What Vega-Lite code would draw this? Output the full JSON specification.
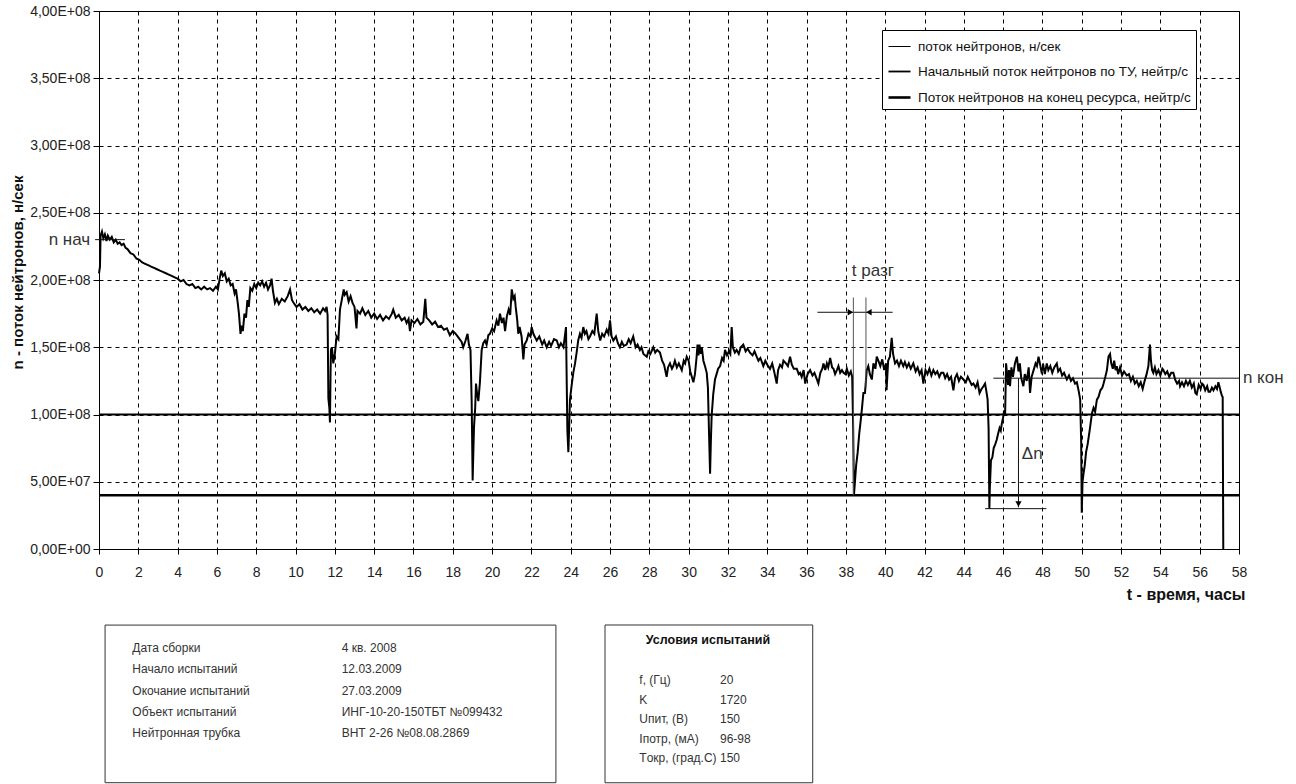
{
"$schema":"https://vega.github.io/schema/vega-lite/v6.json",
"width":1140,"height":538,
"autosize":{"type":"none"},
"padding":{"left":99,"top":11,"right":57,"bottom":235},
"background":"#ffffff",
"config":{"font":"Liberation Sans","view":{"stroke":"#000","strokeWidth":1},
"legend":{"title":null,"orient":"none","legendX":783,"legendY":19,"symbolType":"stroke","symbolSize":484,"labelFontSize":13.5,"labelColor":"#111","labelLimit":400,"labelOffset":6,"rowPadding":6.5,"padding":5,"strokeColor":"#000","fillColor":"#fff","cornerRadius":0}},
"resolve":{"scale":{"x":"independent","y":"independent"}},
"layer":[
{"layer":[
{"data":{"values":[
{"t":0,"n":2.05},{"t":0.05,"n":2.1},{"t":0.08,"n":2.33},{"t":0.15,"n":2.36},{"t":0.22,"n":2.31},{"t":0.3,"n":2.34},{"t":0.38,"n":2.29},{"t":0.45,"n":2.33},{"t":0.55,"n":2.3},{"t":0.65,"n":2.32},{"t":0.75,"n":2.28},{"t":0.85,"n":2.3},{"t":0.95,"n":2.27},{"t":1.05,"n":2.28},{"t":1.15,"n":2.26},{"t":1.25,"n":2.27},{"t":1.35,"n":2.24},{"t":1.45,"n":2.23},{"t":1.6,"n":2.2},{"t":1.75,"n":2.19},{"t":1.9,"n":2.16},{"t":2.05,"n":2.15},{"t":2.2,"n":2.13},{"t":2.35,"n":2.12},{"t":2.5,"n":2.11},{"t":2.65,"n":2.1},{"t":2.8,"n":2.09},{"t":2.95,"n":2.08},{"t":3.1,"n":2.07},{"t":3.25,"n":2.06},{"t":3.4,"n":2.05},{"t":3.55,"n":2.04},{"t":3.7,"n":2.03},{"t":3.85,"n":2.02},{"t":4,"n":2.01},{"t":4.15,"n":1.99},{"t":4.3,"n":2},{"t":4.45,"n":1.97},{"t":4.6,"n":1.96},{"t":4.75,"n":1.97},{"t":4.9,"n":1.94},{"t":5.05,"n":1.95},{"t":5.2,"n":1.93},{"t":5.35,"n":1.95},{"t":5.5,"n":1.93},{"t":5.65,"n":1.94},{"t":5.8,"n":1.92},{"t":5.95,"n":1.95},{"t":6.05,"n":1.93},{"t":6.15,"n":2.02},{"t":6.22,"n":2.07},{"t":6.3,"n":2.03},{"t":6.4,"n":2.05},{"t":6.5,"n":1.99},{"t":6.6,"n":2.01},{"t":6.7,"n":1.96},{"t":6.8,"n":1.97},{"t":6.9,"n":1.9},{"t":6.97,"n":1.93},{"t":7.05,"n":1.84},{"t":7.12,"n":1.75},{"t":7.2,"n":1.6},{"t":7.25,"n":1.66},{"t":7.32,"n":1.62},{"t":7.4,"n":1.75},{"t":7.48,"n":1.72},{"t":7.55,"n":1.85},{"t":7.62,"n":1.8},{"t":7.7,"n":1.94},{"t":7.8,"n":1.92},{"t":7.9,"n":1.97},{"t":8,"n":1.94},{"t":8.1,"n":1.98},{"t":8.2,"n":1.96},{"t":8.3,"n":1.99},{"t":8.4,"n":1.95},{"t":8.5,"n":1.98},{"t":8.6,"n":1.93},{"t":8.7,"n":1.96},{"t":8.78,"n":2.01},{"t":8.85,"n":1.92},{"t":8.95,"n":1.83},{"t":9.05,"n":1.86},{"t":9.15,"n":1.82},{"t":9.3,"n":1.86},{"t":9.45,"n":1.84},{"t":9.6,"n":1.88},{"t":9.72,"n":1.93},{"t":9.82,"n":1.85},{"t":9.95,"n":1.82},{"t":10.05,"n":1.8},{"t":10.2,"n":1.82},{"t":10.35,"n":1.78},{"t":10.5,"n":1.8},{"t":10.65,"n":1.77},{"t":10.8,"n":1.79},{"t":10.95,"n":1.76},{"t":11.1,"n":1.78},{"t":11.25,"n":1.75},{"t":11.4,"n":1.79},{"t":11.5,"n":1.77},{"t":11.58,"n":1.8},{"t":11.63,"n":1.74},{"t":11.67,"n":1.12},{"t":11.72,"n":1.05},{"t":11.75,"n":0.94},{"t":11.78,"n":1.3},{"t":11.8,"n":1.48},{"t":11.85,"n":1.5},{"t":11.92,"n":1.38},{"t":12,"n":1.45},{"t":12.09,"n":1.58},{"t":12.18,"n":1.56},{"t":12.26,"n":1.78},{"t":12.35,"n":1.85},{"t":12.45,"n":1.93},{"t":12.5,"n":1.89},{"t":12.6,"n":1.91},{"t":12.7,"n":1.84},{"t":12.8,"n":1.88},{"t":12.9,"n":1.83},{"t":13,"n":1.8},{"t":13.1,"n":1.64},{"t":13.15,"n":1.77},{"t":13.28,"n":1.75},{"t":13.4,"n":1.79},{"t":13.55,"n":1.74},{"t":13.7,"n":1.77},{"t":13.85,"n":1.72},{"t":14,"n":1.75},{"t":14.15,"n":1.71},{"t":14.3,"n":1.74},{"t":14.45,"n":1.7},{"t":14.6,"n":1.73},{"t":14.75,"n":1.71},{"t":14.9,"n":1.75},{"t":14.97,"n":1.78},{"t":15.1,"n":1.72},{"t":15.25,"n":1.74},{"t":15.4,"n":1.7},{"t":15.55,"n":1.72},{"t":15.65,"n":1.68},{"t":15.75,"n":1.71},{"t":15.82,"n":1.62},{"t":15.9,"n":1.7},{"t":16.05,"n":1.68},{"t":16.2,"n":1.71},{"t":16.35,"n":1.67},{"t":16.5,"n":1.69},{"t":16.6,"n":1.86},{"t":16.66,"n":1.72},{"t":16.8,"n":1.7},{"t":16.95,"n":1.67},{"t":17.1,"n":1.69},{"t":17.25,"n":1.65},{"t":17.4,"n":1.66},{"t":17.55,"n":1.63},{"t":17.7,"n":1.64},{"t":17.85,"n":1.59},{"t":18,"n":1.62},{"t":18.15,"n":1.6},{"t":18.3,"n":1.57},{"t":18.45,"n":1.54},{"t":18.53,"n":1.5},{"t":18.65,"n":1.55},{"t":18.75,"n":1.6},{"t":18.82,"n":1.52},{"t":18.9,"n":1.48},{"t":18.96,"n":1.1},{"t":19.01,"n":0.51},{"t":19.05,"n":0.75},{"t":19.08,"n":0.91},{"t":19.14,"n":1.05},{"t":19.18,"n":1.23},{"t":19.24,"n":1.15},{"t":19.3,"n":1.1},{"t":19.38,"n":1.24},{"t":19.47,"n":1.48},{"t":19.55,"n":1.53},{"t":19.64,"n":1.55},{"t":19.72,"n":1.52},{"t":19.81,"n":1.59},{"t":19.89,"n":1.6},{"t":20,"n":1.64},{"t":20.1,"n":1.62},{"t":20.23,"n":1.7},{"t":20.32,"n":1.66},{"t":20.4,"n":1.75},{"t":20.5,"n":1.68},{"t":20.58,"n":1.72},{"t":20.66,"n":1.62},{"t":20.75,"n":1.73},{"t":20.84,"n":1.78},{"t":20.92,"n":1.74},{"t":21,"n":1.93},{"t":21.08,"n":1.86},{"t":21.15,"n":1.88},{"t":21.2,"n":1.8},{"t":21.28,"n":1.7},{"t":21.33,"n":1.6},{"t":21.4,"n":1.65},{"t":21.5,"n":1.58},{"t":21.59,"n":1.41},{"t":21.65,"n":1.52},{"t":21.76,"n":1.55},{"t":21.85,"n":1.6},{"t":21.95,"n":1.58},{"t":22.01,"n":1.65},{"t":22.1,"n":1.6},{"t":22.2,"n":1.57},{"t":22.27,"n":1.55},{"t":22.4,"n":1.58},{"t":22.55,"n":1.52},{"t":22.65,"n":1.55},{"t":22.78,"n":1.5},{"t":22.9,"n":1.54},{"t":23,"n":1.51},{"t":23.15,"n":1.56},{"t":23.29,"n":1.55},{"t":23.4,"n":1.5},{"t":23.5,"n":1.53},{"t":23.63,"n":1.5},{"t":23.7,"n":1.58},{"t":23.76,"n":1.65},{"t":23.8,"n":1.2},{"t":23.83,"n":0.88},{"t":23.88,"n":0.72},{"t":23.92,"n":0.9},{"t":23.96,"n":1.11},{"t":24.05,"n":1.22},{"t":24.13,"n":1.31},{"t":24.22,"n":1.38},{"t":24.3,"n":1.46},{"t":24.38,"n":1.55},{"t":24.47,"n":1.6},{"t":24.55,"n":1.57},{"t":24.64,"n":1.65},{"t":24.72,"n":1.6},{"t":24.8,"n":1.62},{"t":24.9,"n":1.56},{"t":24.98,"n":1.58},{"t":25.1,"n":1.62},{"t":25.2,"n":1.6},{"t":25.32,"n":1.75},{"t":25.4,"n":1.62},{"t":25.5,"n":1.55},{"t":25.6,"n":1.6},{"t":25.7,"n":1.58},{"t":25.83,"n":1.63},{"t":25.92,"n":1.6},{"t":26,"n":1.7},{"t":26.08,"n":1.58},{"t":26.17,"n":1.55},{"t":26.3,"n":1.58},{"t":26.4,"n":1.53},{"t":26.5,"n":1.5},{"t":26.6,"n":1.54},{"t":26.7,"n":1.51},{"t":26.84,"n":1.52},{"t":26.95,"n":1.56},{"t":27.05,"n":1.53},{"t":27.18,"n":1.58},{"t":27.3,"n":1.5},{"t":27.4,"n":1.52},{"t":27.52,"n":1.48},{"t":27.6,"n":1.5},{"t":27.7,"n":1.45},{"t":27.87,"n":1.43},{"t":27.95,"n":1.47},{"t":28.05,"n":1.45},{"t":28.2,"n":1.5},{"t":28.3,"n":1.46},{"t":28.4,"n":1.48},{"t":28.54,"n":1.46},{"t":28.65,"n":1.4},{"t":28.75,"n":1.37},{"t":28.88,"n":1.28},{"t":28.95,"n":1.35},{"t":29.05,"n":1.38},{"t":29.15,"n":1.34},{"t":29.22,"n":1.36},{"t":29.3,"n":1.4},{"t":29.4,"n":1.35},{"t":29.5,"n":1.38},{"t":29.56,"n":1.36},{"t":29.65,"n":1.33},{"t":29.75,"n":1.4},{"t":29.82,"n":1.38},{"t":29.9,"n":1.43},{"t":30,"n":1.4},{"t":30.08,"n":1.32},{"t":30.16,"n":1.28},{"t":30.24,"n":1.24},{"t":30.32,"n":1.3},{"t":30.4,"n":1.42},{"t":30.45,"n":1.52},{"t":30.5,"n":1.44},{"t":30.55,"n":1.52},{"t":30.62,"n":1.45},{"t":30.67,"n":1.5},{"t":30.75,"n":1.4},{"t":30.85,"n":1.35},{"t":30.92,"n":1.31},{"t":30.98,"n":1.2},{"t":31.03,"n":0.9},{"t":31.09,"n":0.56},{"t":31.13,"n":0.8},{"t":31.17,"n":0.99},{"t":31.25,"n":1.15},{"t":31.34,"n":1.26},{"t":31.42,"n":1.3},{"t":31.5,"n":1.34},{"t":31.6,"n":1.36},{"t":31.7,"n":1.42},{"t":31.78,"n":1.4},{"t":31.85,"n":1.48},{"t":31.95,"n":1.44},{"t":32.05,"n":1.47},{"t":32.12,"n":1.45},{"t":32.19,"n":1.65},{"t":32.25,"n":1.5},{"t":32.35,"n":1.46},{"t":32.44,"n":1.48},{"t":32.55,"n":1.45},{"t":32.65,"n":1.5},{"t":32.78,"n":1.52},{"t":32.9,"n":1.47},{"t":33,"n":1.49},{"t":33.12,"n":1.46},{"t":33.25,"n":1.44},{"t":33.35,"n":1.47},{"t":33.46,"n":1.43},{"t":33.55,"n":1.4},{"t":33.65,"n":1.42},{"t":33.8,"n":1.36},{"t":33.9,"n":1.4},{"t":34,"n":1.37},{"t":34.14,"n":1.34},{"t":34.25,"n":1.38},{"t":34.35,"n":1.32},{"t":34.48,"n":1.23},{"t":34.55,"n":1.33},{"t":34.65,"n":1.37},{"t":34.75,"n":1.35},{"t":34.82,"n":1.4},{"t":34.95,"n":1.38},{"t":35.05,"n":1.36},{"t":35.16,"n":1.43},{"t":35.25,"n":1.37},{"t":35.35,"n":1.34},{"t":35.5,"n":1.34},{"t":35.6,"n":1.3},{"t":35.67,"n":1.31},{"t":35.75,"n":1.28},{"t":35.85,"n":1.33},{"t":35.93,"n":1.23},{"t":36.05,"n":1.3},{"t":36.18,"n":1.33},{"t":36.3,"n":1.29},{"t":36.4,"n":1.31},{"t":36.5,"n":1.27},{"t":36.6,"n":1.23},{"t":36.7,"n":1.31},{"t":36.8,"n":1.34},{"t":36.86,"n":1.38},{"t":36.95,"n":1.33},{"t":37.03,"n":1.38},{"t":37.1,"n":1.35},{"t":37.2,"n":1.42},{"t":37.3,"n":1.35},{"t":37.37,"n":1.34},{"t":37.45,"n":1.3},{"t":37.54,"n":1.33},{"t":37.62,"n":1.36},{"t":37.71,"n":1.31},{"t":37.8,"n":1.33},{"t":37.88,"n":1.31},{"t":37.97,"n":1.3},{"t":38.05,"n":1.34},{"t":38.15,"n":1.29},{"t":38.25,"n":1.32},{"t":38.32,"n":1.28},{"t":38.37,"n":0.9},{"t":38.41,"n":0.4},{"t":38.46,"n":0.5},{"t":38.52,"n":0.62},{"t":38.6,"n":0.72},{"t":38.68,"n":0.86},{"t":38.75,"n":0.95},{"t":38.82,"n":1.05},{"t":38.89,"n":1.16},{"t":38.97,"n":1.16},{"t":39.06,"n":1.33},{"t":39.14,"n":1.36},{"t":39.22,"n":1.3},{"t":39.32,"n":1.26},{"t":39.4,"n":1.38},{"t":39.5,"n":1.34},{"t":39.57,"n":1.43},{"t":39.65,"n":1.4},{"t":39.75,"n":1.36},{"t":39.85,"n":1.41},{"t":39.95,"n":1.33},{"t":40.04,"n":1.38},{"t":40.07,"n":1.18},{"t":40.15,"n":1.4},{"t":40.24,"n":1.43},{"t":40.33,"n":1.57},{"t":40.4,"n":1.45},{"t":40.5,"n":1.38},{"t":40.6,"n":1.4},{"t":40.7,"n":1.36},{"t":40.8,"n":1.4},{"t":40.92,"n":1.36},{"t":41,"n":1.39},{"t":41.1,"n":1.35},{"t":41.2,"n":1.38},{"t":41.3,"n":1.34},{"t":41.43,"n":1.38},{"t":41.55,"n":1.32},{"t":41.65,"n":1.35},{"t":41.75,"n":1.3},{"t":41.85,"n":1.33},{"t":41.94,"n":1.23},{"t":42.05,"n":1.33},{"t":42.15,"n":1.3},{"t":42.25,"n":1.34},{"t":42.35,"n":1.29},{"t":42.45,"n":1.33},{"t":42.55,"n":1.3},{"t":42.65,"n":1.32},{"t":42.75,"n":1.28},{"t":42.85,"n":1.31},{"t":42.96,"n":1.31},{"t":43.05,"n":1.27},{"t":43.15,"n":1.3},{"t":43.25,"n":1.26},{"t":43.35,"n":1.28},{"t":43.47,"n":1.18},{"t":43.55,"n":1.27},{"t":43.65,"n":1.3},{"t":43.75,"n":1.25},{"t":43.85,"n":1.28},{"t":43.98,"n":1.26},{"t":44.1,"n":1.24},{"t":44.2,"n":1.28},{"t":44.3,"n":1.25},{"t":44.4,"n":1.22},{"t":44.49,"n":1.23},{"t":44.6,"n":1.2},{"t":44.7,"n":1.24},{"t":44.8,"n":1.16},{"t":44.9,"n":1.19},{"t":45,"n":1.21},{"t":45.08,"n":1.23},{"t":45.15,"n":1.17},{"t":45.21,"n":1.11},{"t":45.26,"n":0.9},{"t":45.3,"n":0.3},{"t":45.32,"n":0.44},{"t":45.38,"n":0.66},{"t":45.45,"n":0.68},{"t":45.52,"n":0.75},{"t":45.6,"n":0.78},{"t":45.67,"n":0.81},{"t":45.75,"n":0.86},{"t":45.82,"n":0.9},{"t":45.88,"n":0.88},{"t":45.93,"n":0.93},{"t":46,"n":0.98},{"t":46.05,"n":1.03},{"t":46.1,"n":1},{"t":46.15,"n":1.38},{"t":46.2,"n":1.3},{"t":46.25,"n":1.22},{"t":46.3,"n":1.33},{"t":46.35,"n":1.21},{"t":46.42,"n":1.35},{"t":46.5,"n":1.28},{"t":46.6,"n":1.38},{"t":46.7,"n":1.43},{"t":46.78,"n":1.32},{"t":46.85,"n":1.38},{"t":46.92,"n":1.27},{"t":47.03,"n":1.21},{"t":47.1,"n":1.3},{"t":47.2,"n":1.25},{"t":47.3,"n":1.35},{"t":47.37,"n":1.16},{"t":47.45,"n":1.28},{"t":47.55,"n":1.33},{"t":47.65,"n":1.38},{"t":47.72,"n":1.36},{"t":47.8,"n":1.43},{"t":47.87,"n":1.38},{"t":47.95,"n":1.32},{"t":48.05,"n":1.36},{"t":48.12,"n":1.3},{"t":48.22,"n":1.38},{"t":48.3,"n":1.33},{"t":48.4,"n":1.36},{"t":48.5,"n":1.31},{"t":48.6,"n":1.35},{"t":48.73,"n":1.38},{"t":48.8,"n":1.32},{"t":48.9,"n":1.34},{"t":49,"n":1.29},{"t":49.1,"n":1.31},{"t":49.24,"n":1.26},{"t":49.35,"n":1.29},{"t":49.45,"n":1.25},{"t":49.55,"n":1.27},{"t":49.66,"n":1.23},{"t":49.75,"n":1.24},{"t":49.85,"n":1.17},{"t":49.92,"n":1.11},{"t":49.97,"n":0.8},{"t":50,"n":0.27},{"t":50.04,"n":0.5},{"t":50.09,"n":0.56},{"t":50.15,"n":0.62},{"t":50.22,"n":0.72},{"t":50.3,"n":0.78},{"t":50.35,"n":0.83},{"t":50.42,"n":0.9},{"t":50.52,"n":1.01},{"t":50.6,"n":1.05},{"t":50.68,"n":1.02},{"t":50.77,"n":1.11},{"t":50.85,"n":1.13},{"t":50.95,"n":1.18},{"t":51.05,"n":1.2},{"t":51.11,"n":1.23},{"t":51.2,"n":1.28},{"t":51.28,"n":1.33},{"t":51.36,"n":1.43},{"t":51.44,"n":1.45},{"t":51.5,"n":1.38},{"t":51.58,"n":1.34},{"t":51.65,"n":1.4},{"t":51.72,"n":1.33},{"t":51.78,"n":1.36},{"t":51.85,"n":1.3},{"t":51.95,"n":1.35},{"t":52.05,"n":1.29},{"t":52.15,"n":1.32},{"t":52.29,"n":1.29},{"t":52.4,"n":1.3},{"t":52.5,"n":1.25},{"t":52.6,"n":1.28},{"t":52.7,"n":1.23},{"t":52.8,"n":1.25},{"t":52.9,"n":1.21},{"t":53,"n":1.24},{"t":53.1,"n":1.19},{"t":53.2,"n":1.25},{"t":53.3,"n":1.3},{"t":53.39,"n":1.36},{"t":53.47,"n":1.52},{"t":53.52,"n":1.4},{"t":53.58,"n":1.33},{"t":53.64,"n":1.31},{"t":53.72,"n":1.35},{"t":53.8,"n":1.3},{"t":53.9,"n":1.33},{"t":54,"n":1.29},{"t":54.1,"n":1.34},{"t":54.15,"n":1.33},{"t":54.25,"n":1.3},{"t":54.35,"n":1.32},{"t":54.45,"n":1.28},{"t":54.55,"n":1.31},{"t":54.66,"n":1.31},{"t":54.75,"n":1.26},{"t":54.85,"n":1.23},{"t":54.95,"n":1.25},{"t":55,"n":1.21},{"t":55.1,"n":1.24},{"t":55.2,"n":1.21},{"t":55.3,"n":1.25},{"t":55.4,"n":1.22},{"t":55.5,"n":1.25},{"t":55.6,"n":1.2},{"t":55.7,"n":1.23},{"t":55.78,"n":1.16},{"t":55.85,"n":1.15},{"t":55.95,"n":1.22},{"t":56.05,"n":1.19},{"t":56.12,"n":1.23},{"t":56.19,"n":1.22},{"t":56.28,"n":1.18},{"t":56.38,"n":1.21},{"t":56.45,"n":1.17},{"t":56.53,"n":1.17},{"t":56.62,"n":1.2},{"t":56.7,"n":1.18},{"t":56.8,"n":1.21},{"t":56.88,"n":1.19},{"t":56.95,"n":1.24},{"t":57.02,"n":1.2},{"t":57.07,"n":1.17},{"t":57.13,"n":1.14},{"t":57.17,"n":1.13},{"t":57.2,"n":0}
]},
"mark":{"type":"line","strokeJoin":"miter","strokeWidth":2},
"encoding":{
"x":{"field":"t","type":"quantitative","scale":{"domain":[0,58],"nice":false,"zero":false},
"axis":{"values":[0,2,4,6,8,10,12,14,16,18,20,22,24,26,28,30,32,34,36,38,40,42,44,46,48,50,52,54,56,58],"tickCount":60,"grid":true,"gridColor":"#000","gridDash":[4,4],"gridOpacity":1,"domainColor":"#000","tickColor":"#000","tickSize":5,"labelFontSize":14,"labelColor":"#222","labelPadding":11,"labelFlush":false,"labelOverlap":false,"title":"t - время, часы","titleFontSize":16,"titleFontWeight":"bold","titleColor":"#111","titleAlign":"right","titleAnchor":"end","titleX":1146,"titleY":45,"titleBaseline":"middle"}},
"y":{"field":"n","type":"quantitative","scale":{"domain":[0,4],"nice":false,"zero":false},
"axis":{"values":[0,0.5,1,1.5,2,2.5,3,3.5,4],"tickCount":20,"grid":true,"gridColor":"#000","gridDash":[4,4],"gridOpacity":1,"domainColor":"#000","tickColor":"#000","tickSize":6,"labelFontSize":14,"labelColor":"#222","labelPadding":3,"labelFlush":false,"labelOverlap":false,
"labelExpr":"datum.value == 0 ? '0,00E+00' : replace(format(datum.value*1e8 / pow(10, floor(log(datum.value*1e8)/LN10 + 1e-9)), '.2f'), '.', ',') + 'E+' + (floor(log(datum.value*1e8)/LN10 + 1e-9) < 10 ? '0' : '') + floor(log(datum.value*1e8)/LN10 + 1e-9)",
"title":"n - поток нейтронов, н/сек","titleFontSize":15,"titleFontWeight":"bold","titleColor":"#111","titleX":-82,"titleY":261,"titleAngle":-90,"titleAlign":"center","titleBaseline":"middle"}},
"color":{"datum":"поток нейтронов, н/сек","type":"nominal","scale":{"domain":["поток нейтронов, н/сек","Начальный поток нейтронов по ТУ, нейтр/с","Поток нейтронов на конец ресурса, нейтр/с"],"range":["#000","#000","#000"]},"legend":{"title":null}}
}},
{"data":{"values":[{"series":"Начальный поток нейтронов по ТУ, нейтр/с","n":1.0},{"series":"Поток нейтронов на конец ресурса, нейтр/с","n":0.4}]},
"mark":{"type":"rule"},
"encoding":{"y":{"field":"n","type":"quantitative"},
"color":{"field":"series","type":"nominal","title":null,"legend":{"title":null}},
"strokeWidth":{"field":"series","type":"ordinal","title":null,"scale":{"domain":["поток нейтронов, н/сек","Начальный поток нейтронов по ТУ, нейтр/с","Поток нейтронов на конец ресурса, нейтр/с"],"range":[1,2.6,2.6]},"legend":{"title":null}}}},
{"data":{"values":[
{"t":-0.2,"t2":1.32,"n":2.3,"n2":2.3},
{"t":45.5,"t2":58,"n":1.27,"n2":1.27},
{"t":46.78,"t2":46.78,"n":1.27,"n2":0.31},
{"t":45.08,"t2":48.2,"n":0.3,"n2":0.3},
{"t":36.55,"t2":40.38,"n":1.76,"n2":1.76}
]},
"mark":{"type":"rule","color":"#111","strokeWidth":1},
"encoding":{"x":{"field":"t","type":"quantitative"},"x2":{"field":"t2"},"y":{"field":"n","type":"quantitative"},"y2":{"field":"n2"}}},
{"data":{"values":[
{"t":38.38,"t2":38.38,"n":1.87,"n2":0.4},
{"t":39.02,"t2":39.02,"n":1.87,"n2":1.2}
]},
"mark":{"type":"rule","color":"#555","strokeWidth":1},
"encoding":{"x":{"field":"t","type":"quantitative"},"x2":{"field":"t2"},"y":{"field":"n","type":"quantitative"},"y2":{"field":"n2"}}},
{"data":{"values":[{"t":38.23,"n":1.76}]},
"mark":{"type":"point","shape":"triangle-right","filled":true,"color":"#000","size":40,"opacity":1},
"encoding":{"x":{"field":"t","type":"quantitative"},"y":{"field":"n","type":"quantitative"}}},
{"data":{"values":[{"t":39.17,"n":1.76}]},
"mark":{"type":"point","shape":"triangle-left","filled":true,"color":"#000","size":40,"opacity":1},
"encoding":{"x":{"field":"t","type":"quantitative"},"y":{"field":"n","type":"quantitative"}}},
{"data":{"values":[{"t":46.78,"n":0.335}]},
"mark":{"type":"point","shape":"triangle-down","filled":true,"color":"#000","size":40,"opacity":1},
"encoding":{"x":{"field":"t","type":"quantitative"},"y":{"field":"n","type":"quantitative"}}},
{"data":{"values":[{"t":-0.45,"n":2.3,"label":"n нач"}]},
"mark":{"type":"text","align":"right","baseline":"middle","fontSize":17,"color":"#333"},
"encoding":{"x":{"field":"t","type":"quantitative"},"y":{"field":"n","type":"quantitative"},"text":{"field":"label"}}},
{"data":{"values":[{"t":58.2,"n":1.27,"label":"n кон"},{"t":38.3,"n":2.07,"label":"t разг"},{"t":46.95,"n":0.71,"label":"Δn"}]},
"mark":{"type":"text","align":"left","baseline":"middle","fontSize":17,"color":"#333"},
"encoding":{"x":{"field":"t","type":"quantitative"},"y":{"field":"n","type":"quantitative"},"text":{"field":"label"}}}
]},
{"layer":[
{"data":{"values":[{}]},
"mark":{"type":"rect","fill":"#fff","fillOpacity":0,"stroke":"#333","strokeWidth":1},
"encoding":{"x":{"datum":-0.13,"type":"quantitative","scale":{"domain":[0,1],"range":[33.3,242.7],"nice":false,"zero":false},"axis":null},"x2":{"datum":2.023},
"y":{"datum":-1.1,"type":"quantitative","scale":{"domain":[0,4],"range":[637.3,721.7],"nice":false,"zero":false},"axis":null},"y2":{"datum":6.37}}},
{"data":{"values":[
{"row":0,"label":"Дата сборки","value":"4 кв. 2008"},
{"row":1,"label":"Начало испытаний","value":"12.03.2009"},
{"row":2,"label":"Окочание испытаний","value":"27.03.2009"},
{"row":3,"label":"Объект испытаний","value":"ИНГ-10-20-150ТБТ №099432"},
{"row":4,"label":"Нейтронная трубка","value":"ВНТ 2-26 №08.08.2869"}
]},
"layer":[
{"mark":{"type":"text","align":"left","baseline":"middle","fontSize":12,"color":"#333"},
"encoding":{"x":{"datum":0,"type":"quantitative","axis":null},"y":{"field":"row","type":"quantitative","axis":null},"text":{"field":"label"}}},
{"mark":{"type":"text","align":"left","baseline":"middle","fontSize":12,"color":"#333"},
"encoding":{"x":{"datum":1,"type":"quantitative","axis":null},"y":{"field":"row","type":"quantitative","axis":null},"text":{"field":"value"}}}
]}
]},
{"layer":[
{"data":{"values":[{}]},
"mark":{"type":"rect","fill":"#fff","fillOpacity":0,"stroke":"#333","strokeWidth":1},
"encoding":{"x":{"datum":-0.425,"type":"quantitative","scale":{"domain":[0,1],"range":[540.3,621],"nice":false,"zero":false},"axis":null},"x2":{"datum":2.149},
"y":{"datum":-2.81,"type":"quantitative","scale":{"domain":[0,4],"range":[669,747.3],"nice":false,"zero":false},"axis":null},"y2":{"datum":5.25}}},
{"data":{"values":[{"title":"Условия испытаний"}]},
"mark":{"type":"text","align":"center","baseline":"middle","fontSize":12.5,"fontWeight":"bold","color":"#111"},
"encoding":{"x":{"datum":0.851,"type":"quantitative","axis":null},"y":{"datum":-2.04,"type":"quantitative","axis":null},"text":{"field":"title"}}},
{"data":{"values":[
{"row":0,"label":"f, (Гц)","value":"20"},
{"row":1,"label":"K","value":"1720"},
{"row":2,"label":"Uпит, (B)","value":"150"},
{"row":3,"label":"Iпотр, (мА)","value":"96-98"},
{"row":4,"label":"Tокр, (град.С)","value":"150"}
]},
"layer":[
{"mark":{"type":"text","align":"left","baseline":"middle","fontSize":12,"color":"#333"},
"encoding":{"x":{"datum":0,"type":"quantitative","axis":null},"y":{"field":"row","type":"quantitative","axis":null},"text":{"field":"label"}}},
{"mark":{"type":"text","align":"left","baseline":"middle","fontSize":12,"color":"#333"},
"encoding":{"x":{"datum":1,"type":"quantitative","axis":null},"y":{"field":"row","type":"quantitative","axis":null},"text":{"field":"value"}}}
]}
]}
]
}
